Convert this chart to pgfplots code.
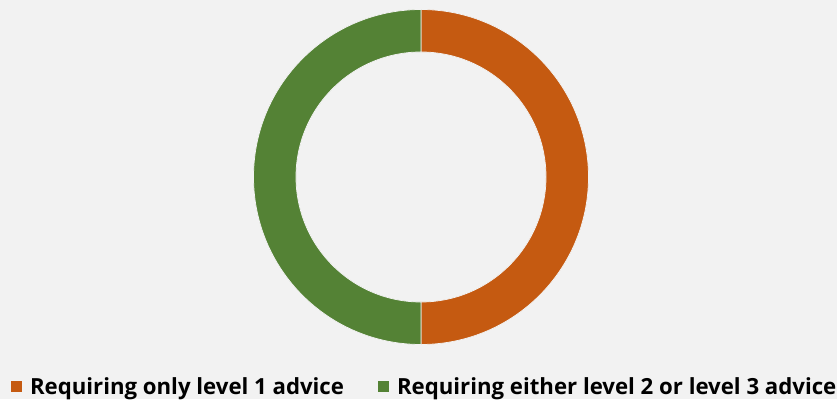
\documentclass[border=0pt]{standalone}
\usepackage{pgfplots}
\pgfplotsset{compat=1.18}
\usepackage{pgfplotstable}
\usepackage{fontspec}
\setmainfont{Open Sans}
\definecolor{segA}{HTML}{C55A11}
\definecolor{segB}{HTML}{548235}
\definecolor{bg}{HTML}{F2F2F2}
\pgfplotstableread{
label value
A 50
B 50
}\donutdata
\begin{document}%
\begin{tikzpicture}
\pgfplotstablegetelem{0}{value}\of\donutdata \let\va\pgfplotsretval
\pgfplotstablegetelem{1}{value}\of\donutdata \let\vb\pgfplotsretval
\pgfmathsetmacro\total{\va+\vb}
\pgfmathsetmacro\fa{\va/\total}
\pgfmathsetmacro\fb{\vb/\total}
\pgfmathsetmacro\angA{90-360*\fa}
\pgfmathsetmacro\angB{\angA-360*\fb}
\def\Ro{167.5}
\def\Ri{125}
\pgfmathsetmacro\thick{\Ro-\Ri}
\begin{axis}[name=ax, x=1pt,y=1pt,xmin=0,xmax=837,ymin=0,ymax=399,
  hide axis, scale only axis, enlargelimits=false, clip=false,
  disabledatascaling,
  anchor=south west, at={(0,0)},
  legend columns=2,
  legend image code/.code={\fill[#1] (0pt,-5.5pt) rectangle (11pt,5.5pt);},
  legend style={draw=none, fill=none, at={(axis cs:11,12.5)}, anchor=west,
    inner sep=0pt, outer sep=0pt,
    font=\bfseries\fontsize{22.2}{26}\selectfont,
    nodes={inner sep=0pt},
    /tikz/every odd column/.append style={column sep=8pt},
    /tikz/every even column/.append style={column sep=34pt},
    cells={anchor=west}},
]
\fill[bg] (axis cs:0,0) rectangle (axis cs:837,399);
\fill[segA, draw=bg, line width=0.75pt] (axis cs:421,222) ++(90:\Ro pt) arc[start angle=90, end angle=\angA, radius=\Ro pt]
  -- ++(\angA:-\thick pt) arc[start angle=\angA, end angle=90, radius=\Ri pt] -- cycle;
\fill[segB, draw=bg, line width=0.75pt] (axis cs:421,222) ++(\angA:\Ro pt) arc[start angle=\angA, end angle=\angB, radius=\Ro pt]
  -- ++(\angB:-\thick pt) arc[start angle=\angB, end angle=\angA, radius=\Ri pt] -- cycle;
\addlegendimage{fill=segA, draw=none}
\addlegendentry{Requiring only level 1 advice}
\addlegendimage{fill=segB, draw=none}
\addlegendentry{Requiring either level 2 or level 3 advice}
\end{axis}
\pgfresetboundingbox
\path[use as bounding box] (ax.south west) rectangle (ax.north east);
\end{tikzpicture}%
\end{document}
